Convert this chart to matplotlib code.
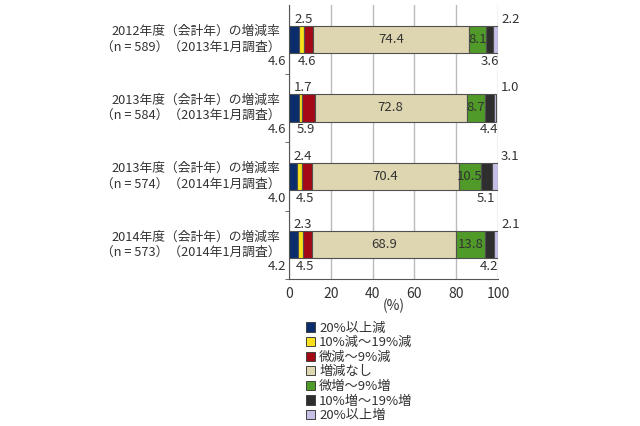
import matplotlib
matplotlib.use("Agg")
import matplotlib.pyplot as plt
from matplotlib.patches import Patch
import numpy as np

plt.rcParams['font.family'] = ['Noto Sans CJK JP', 'DejaVu Sans']

# rows, top to bottom
row_labels = [
    "2012年度（会計年）の増減率\n（n = 589）（2013年1月調査）",
    "2013年度（会計年）の増減率\n（n = 584）（2013年1月調査）",
    "2013年度（会計年）の増減率\n（n = 574）（2014年1月調査）",
    "2014年度（会計年）の増減率\n（n = 573）（2014年1月調査）",
]
categories = ["20%以上減", "10%減～19%減", "微減～9%減", "増減なし",
              "微増～9%増", "10%増～19%増", "20%以上増"]
dec20 = [4.6, 4.6, 4.0, 4.2]
dec10 = [2.5, 1.7, 2.4, 2.3]
dec_small = [4.6, 5.9, 4.5, 4.5]
no_change = [74.4, 72.8, 70.4, 68.9]
inc_small = [8.1, 8.7, 10.5, 13.8]
inc10 = [3.6, 4.4, 5.1, 4.2]
inc20 = [2.2, 1.0, 3.1, 2.1]

colors = ["#0b2d6b", "#f7e11c", "#a30a16", "#ddd6b0",
          "#4f9a28", "#2e2e2e", "#c4c0e6"]

series = [dec20, dec10, dec_small, no_change, inc_small, inc10, inc20]

fig = plt.figure(figsize=(6.4, 4.26), dpi=100)
ax = fig.add_axes([0.4516, 0.345, 0.3265, 0.643])

y = np.arange(len(row_labels))
h = 0.4
left = np.zeros(len(row_labels))
for vals, c in zip(series, colors):
    ax.barh(y, vals, left=left, height=h, color=c, edgecolor="#505050",
            linewidth=0.8, zorder=3)
    left = left + np.array(vals)

fs = 9.5
tc = "#333333"
for i in range(len(row_labels)):
    s = [v[i] for v in series]
    cum = np.cumsum([0] + s)
    # segment 1: left of axis, below bar
    ax.text(-1.5, i + 0.32, f"{s[0]:.1f}", ha="right", va="center", fontsize=fs, color=tc)
    # segment 2: above bar
    ax.text(cum[1] + s[1] / 2 + 1.2, i - 0.29, f"{s[1]:.1f}", ha="center", va="center", fontsize=fs, color=tc)
    # segment 3: below bar
    ax.text(cum[2] + s[2] / 2 - 1.0, i + 0.32, f"{s[2]:.1f}", ha="center", va="center", fontsize=fs, color=tc)
    # segment 4, 5 inside
    ax.text(cum[3] + s[3] / 2, i, f"{s[3]:.1f}", ha="center", va="center", fontsize=fs, color=tc, zorder=4)
    ax.text(cum[4] + s[4] / 2, i, f"{s[4]:.1f}", ha="center", va="center", fontsize=fs, color=tc, zorder=4)
    # segment 6: below bar
    ax.text(cum[5] + s[5] / 2, i + 0.32, f"{s[5]:.1f}", ha="center", va="center", fontsize=fs, color=tc)
    # segment 7: right of axis, above bar
    ax.text(101.5, i - 0.29, f"{s[6]:.1f}", ha="left", va="center", fontsize=fs, color=tc)
    # row label
    ax.text(-4.0, i, row_labels[i], ha="right", va="center", fontsize=9.2, color=tc,
            linespacing=1.25)

ax.set_xlim(0, 100)
ax.set_ylim(3.5, -0.5)
ax.set_xticks([0, 20, 40, 60, 80, 100])
ax.tick_params(axis="x", labelsize=10, colors=tc, length=0, pad=6)
ax.set_yticks([])
ax.set_yticks([0.5, 1.5, 2.5, 3.5], minor=True)
ax.tick_params(axis="y", which="minor", length=3, color="#555555", direction="out")
ax.set_xlabel("(%)", fontsize=10, color=tc, labelpad=-2)
ax.xaxis.grid(True, color="#bbbbbb", linewidth=1.0, zorder=0)
for sp in ["top", "right"]:
    ax.spines[sp].set_visible(False)
ax.spines["left"].set_color("#555555")
ax.spines["bottom"].set_color("#555555")

handles = [Patch(facecolor=c, edgecolor="#404040", linewidth=0.7) for c in colors]
fig.legend(handles, categories, loc="upper left", bbox_to_anchor=(0.478, 0.245),
           frameon=False, fontsize=9.5, handlelength=0.7, handleheight=0.7,
           handletextpad=0.3, labelspacing=0.12, borderaxespad=0, borderpad=0,
           labelcolor=tc)

fig.savefig("out.png", dpi=100)
